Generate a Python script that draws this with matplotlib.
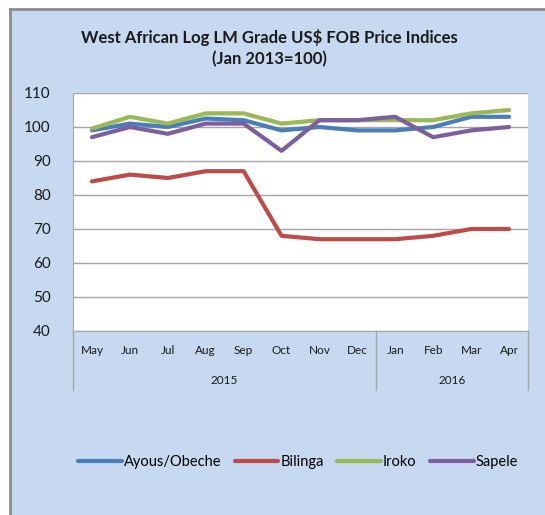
import matplotlib
matplotlib.use("Agg")
import matplotlib.pyplot as plt
from matplotlib.patches import Rectangle
from matplotlib.lines import Line2D
import matplotlib.transforms as mtransforms

months = ["May", "Jun", "Jul", "Aug", "Sep", "Oct", "Nov", "Dec", "Jan", "Feb", "Mar", "Apr"]
years = ["2015", "2016"]
year_spans = [(0, 7), (8, 11)]

ayous = [99, 101, 100, 102.5, 102, 99, 100, 99, 99, 100, 103, 103]
bilinga = [84, 86, 85, 87, 87, 68, 67, 67, 67, 68, 70, 70]
iroko = [99.5, 103, 101, 104, 104, 101, 102, 102, 102, 102, 104, 105]
sapele = [97, 100, 98, 101, 101, 93, 102, 102, 103, 97, 99, 100]

series = [("Ayous/Obeche", ayous, "#4a7ebb"),
          ("Bilinga", bilinga, "#be4b48"),
          ("Iroko", iroko, "#98b954"),
          ("Sapele", sapele, "#7d5fa0")]

plt.rcParams['font.family'] = ['Lato', 'DejaVu Sans']

W, H = 545, 515
fig = plt.figure(figsize=(W / 100, H / 100), dpi=100, facecolor="white")

# background panel
bg = Rectangle((9.5 / W, 0), 1 - 9.5 / W, (H - 8.5) / H, transform=fig.transFigure,
               facecolor="#c6d9f1", edgecolor="none", zorder=-10)
fig.add_artist(bg)
fig.add_artist(Line2D([9.5 / W, 1], [(H - 8.5) / H] * 2, transform=fig.transFigure,
                      color="#8c8c8c", lw=2, zorder=-9))
fig.add_artist(Line2D([9.5 / W] * 2, [0, (H - 8.5) / H], transform=fig.transFigure,
                      color="#8c8c8c", lw=2, zorder=-9))

left, right, top, bottom = 73, 528, 93, 331
ax = fig.add_axes([left / W, 1 - bottom / H, (right - left) / W, (bottom - top) / H])
ax.set_facecolor("white")

x = list(range(len(months)))
for name, vals, col in series:
    ax.plot(x, vals, color=col, lw=3, label=name, solid_joinstyle="round", solid_capstyle="round")

ax.set_xlim(-0.5, len(months) - 0.5)
ax.set_ylim(40, 110)
ax.set_yticks(range(40, 111, 10))
ax.yaxis.grid(True, color="#a6a6a6", lw=1)
ax.set_axisbelow(True)
ax.tick_params(axis="y", length=0, pad=16, labelsize=11, labelcolor="#1a1a1a")
ax.set_xticks([])
for s in ["top", "right"]:
    ax.spines[s].set_visible(False)
ax.spines["left"].set_color("#a6a6a6")
ax.spines["bottom"].set_color("#a6a6a6")

trans = mtransforms.blended_transform_factory(ax.transData, ax.transAxes)
ph = bottom - top
for i, m in enumerate(months):
    ax.text(i, -(351 - bottom) / ph, m, transform=trans, ha="center", va="center",
            fontsize=8.5, color="#1a1a1a")
for (a, b), yl in zip(year_spans, years):
    ax.text((a + b) / 2, -(381 - bottom) / ph, yl, transform=trans, ha="center", va="center",
            fontsize=8.5, color="#1a1a1a")
for xb in [-0.5, 7.5, 11.5]:
    ax.add_line(Line2D([xb, xb], [0, -(390 - bottom) / ph], transform=trans, color="#a6a6a6",
                       lw=1, clip_on=False))

fig.text(269 / W, 1 - 37 / H, "West African Log LM Grade US$ FOB Price Indices",
         ha="center", va="center", fontsize=12, fontweight="bold", color="#1a1a1a")
fig.text(269 / W, 1 - 59 / H, "(Jan 2013=100)", ha="center", va="center",
         fontsize=12, fontweight="bold", color="#1a1a1a")

leg = fig.legend(loc="center", bbox_to_anchor=(298 / W, 1 - 462 / H), ncol=4, frameon=False,
                 fontsize=10.5, handlelength=3.0, handletextpad=0.15, columnspacing=0.9)
for h in leg.get_lines():
    h.set_linewidth(3)

fig.savefig("out.png", dpi=100, facecolor=fig.get_facecolor())
